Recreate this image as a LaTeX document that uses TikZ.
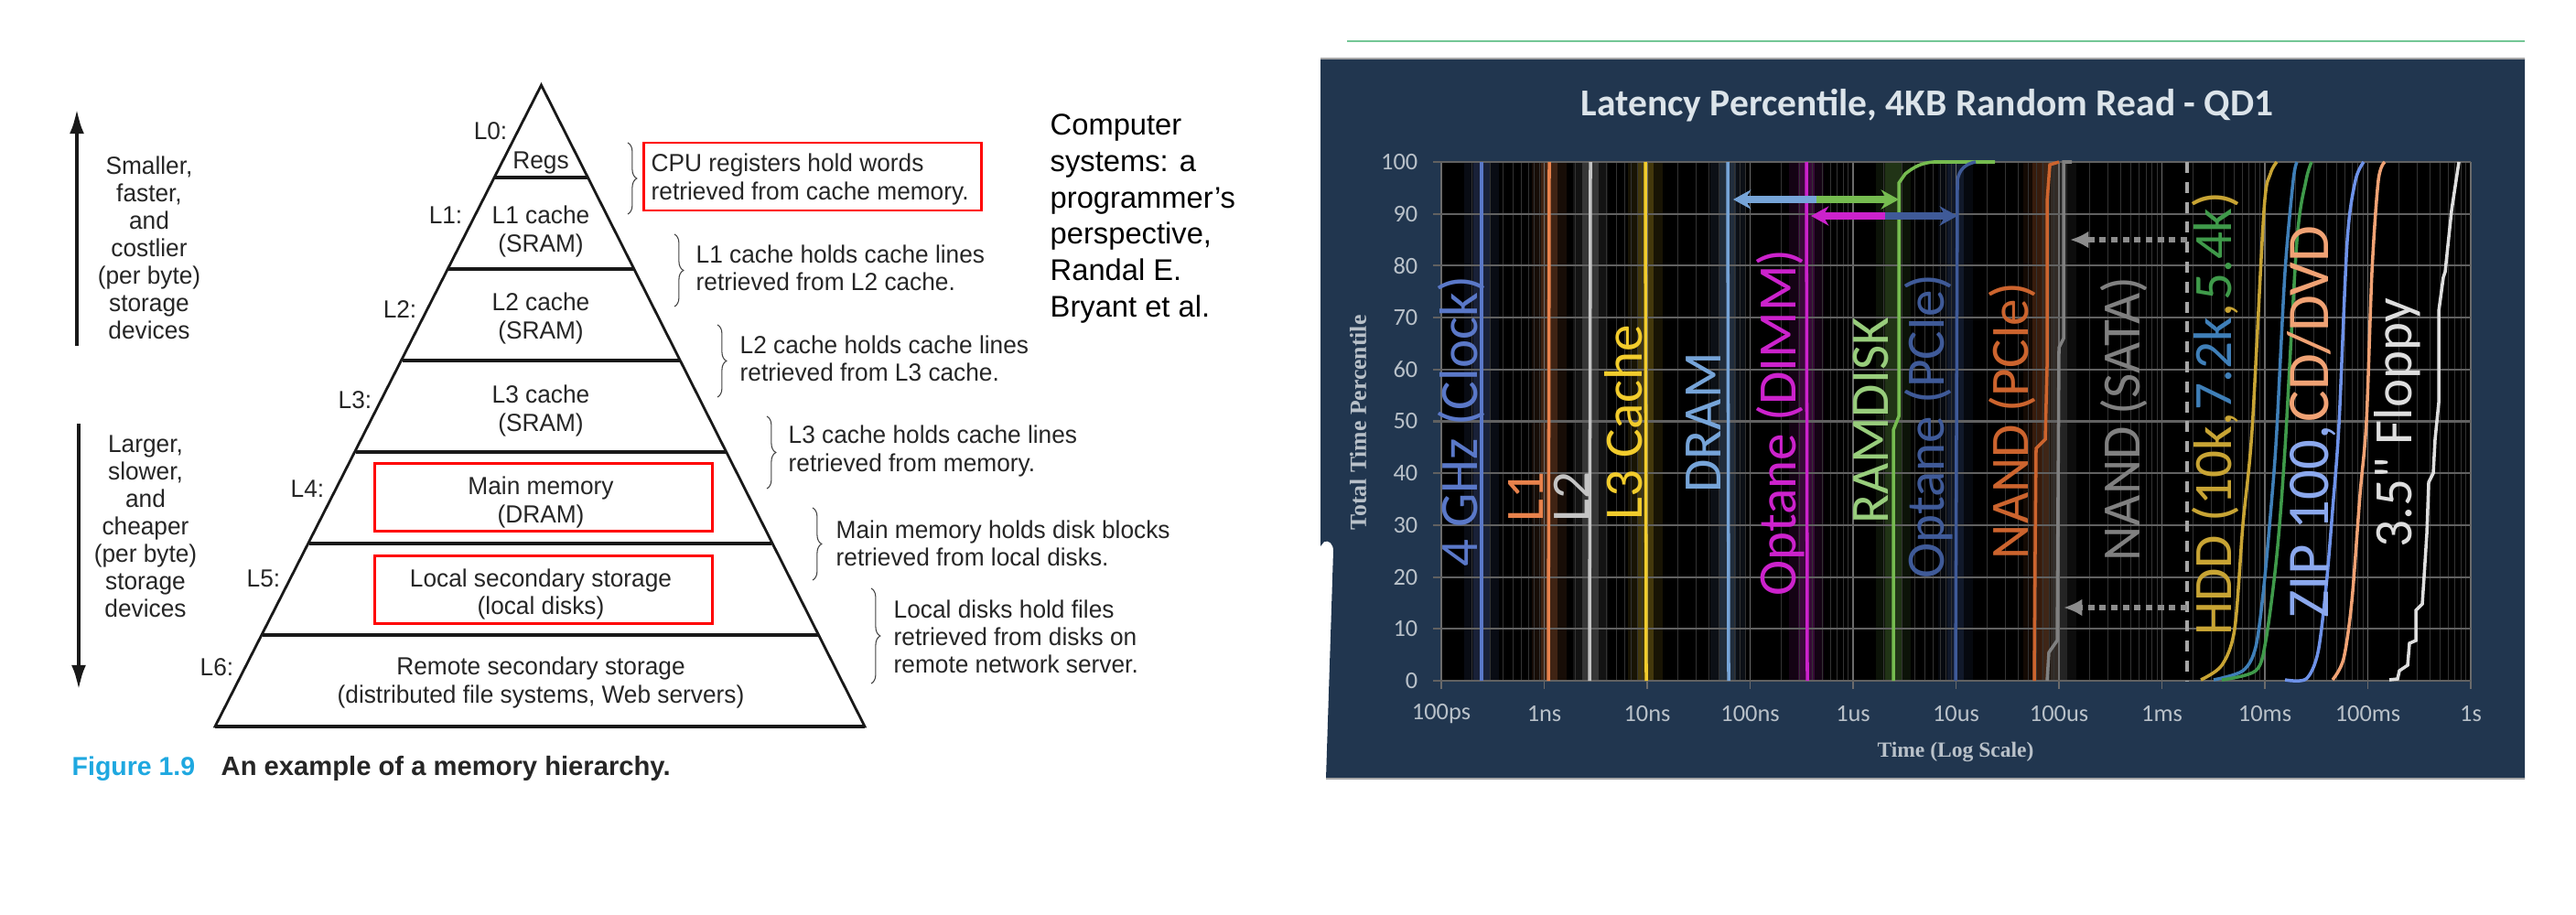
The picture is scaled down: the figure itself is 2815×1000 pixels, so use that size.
\documentclass[tikz,border=0pt]{standalone}
\usepackage{fontspec}
\setmainfont{Liberation Sans}
\newfontfamily\bookfont[FakeStretch=0.97]{Liberation Sans}
\newfontfamily\chartfont{Carlito}
\newfontfamily\axisfont{Liberation Serif}
\usetikzlibrary{arrows.meta, decorations.pathreplacing}
\definecolor{panelblue}{HTML}{21364F}
\definecolor{figcyan}{HTML}{1FA8E0}
\definecolor{ruleg}{HTML}{74C796}
\definecolor{tickgrey}{HTML}{B9C1C9}
\definecolor{titlec}{HTML}{DCE4EA}
\definecolor{clockc}{HTML}{5A78C8}
\definecolor{lonec}{HTML}{E8824C}
\definecolor{ltwoc}{HTML}{C4C4C4}
\definecolor{lthreec}{HTML}{F2CC2C}
\definecolor{dramc}{HTML}{76A4D8}
\definecolor{dimmc}{HTML}{CC22CC}
\definecolor{ramc}{HTML}{76BC50}
\definecolor{pciec}{HTML}{3F5A98}
\definecolor{nandc}{HTML}{CC642E}
\definecolor{satac}{HTML}{808080}
\definecolor{hddc}{HTML}{C8A434}
\definecolor{sevenc}{HTML}{3F7FB8}
\definecolor{fivec}{HTML}{3F9A4A}
\definecolor{zipc}{HTML}{6E92E8}
\definecolor{cdc}{HTML}{F0A274}
\definecolor{flopc}{HTML}{DEDEDE}
\tikzset{
  booktext/.style={inner sep=0pt, align=left, font=\bookfont\fontsize{7.7pt}{8.54pt}\selectfont, text=black!85},
  bookmid/.style={booktext, align=center},
  hold/.style={booktext, anchor=west},
  level/.style={bookmid},
  redbox/.style={draw=red, line width=0.85pt},
  bookbrace/.style={draw=black!75, line width=0.3pt, decorate, decoration={brace, amplitude=2.8pt}},
  bigarrow/.style={line width=1.4pt, draw=black!90, -{Latex[length=8pt, width=4.5pt]}},
  curvelabel/.style={rotate=90, inner sep=0pt, font=\chartfont\fontsize{16.8pt}{18pt}\selectfont},
  tick/.style={inner sep=0pt, text=tickgrey, font=\chartfont\fontsize{7.5pt}{9pt}\selectfont},
  axislabel/.style={inner sep=0pt, text=tickgrey, font=\axisfont\bfseries\fontsize{6.7pt}{8pt}\selectfont},
  curve/.style={line width=1pt},
  glow/.style={line width=5pt, opacity=0.2},
  wideglow/.style={line width=11pt, opacity=0.1},
  span/.style={line width=2pt, -{Stealth[length=5.5pt, width=6pt]}},
  drop/.style={line width=1.6pt, draw=black!45, dash pattern=on 2pt off 1.6pt, -{Latex[length=5.8pt, width=5.4pt]}},
}
\begin{document}
\begin{tikzpicture}[x=0.01cm, y=-0.01cm]
  \useasboundingbox (0,0) rectangle (2815,1000);

  \draw[bigarrow] (84,378) -- (84,118);
  \draw[bigarrow] (86,463) -- (86,755);
  \node[bookmid] (faster) at (163,271) {Smaller,\\faster,\\and\\costlier\\(per byte)\\storage\\devices};
  \node[bookmid] (slower) at (159,575) {Larger,\\slower,\\and\\cheaper\\(per byte)\\storage\\devices};

  \draw[line width=0.8pt, black!90] (235,794) -- (591.5,93) -- (945,794) -- cycle;
  \foreach \ly/\lxa/\lxb in {194/540/642, 294/490/693, 394/440/743, 494/389/794, 594/338/843, 694/287/894}
    \draw[line width=1.3pt, black!90] (\lxa,\ly) -- (\lxb,\ly);
  \draw[line width=1.3pt, black!90] (235,794) -- (945,794);

  \node[level] (l0) at (536,143) {L0:};
  \node[level] (l1) at (487,235) {L1:};
  \node[level] (l2) at (437,338) {L2:};
  \node[level] (l3) at (388,437) {L3:};
  \node[level] (l4) at (336,534) {L4:};
  \node[level] (l5) at (288,632) {L5:};
  \node[level] (l6) at (237,729) {L6:};

  \node[level] (regs) at (591,178) {Regs};
  \node[level] (lonecache) at (591,253) {L1 cache\\(SRAM)};
  \node[level] (ltwocache) at (591,348) {L2 cache\\(SRAM)};
  \node[level] (lthreecache) at (591,449) {L3 cache\\(SRAM)};
  \node[level] (mainmem) at (591,549) {Main memory\\(DRAM)};
  \node[level] (localdisk) at (591,649) {Local secondary storage\\(local disks)};
  \node[level] (remote) at (591,746) {Remote secondary storage\\(distributed file systems, Web servers)};

  \draw[redbox] (409,506) rectangle (778,580);
  \draw[redbox] (409,607) rectangle (778,681);
  \draw[redbox] (703,156) rectangle (1072,230);

  \draw[bookbrace] (686,156) -- (686,234);
  \draw[bookbrace] (737,256) -- (737,335);
  \draw[bookbrace] (784,355) -- (784,434);
  \draw[bookbrace] (838,455) -- (838,534);
  \draw[bookbrace] (888,555) -- (888,634);
  \draw[bookbrace] (952,643) -- (952,747);

  \node[hold] (holdregs) at (711,196) {CPU registers hold words\\retrieved from cache memory.};
  \node[hold] (holdone) at (760,293) {L1 cache holds cache lines\\retrieved from L2 cache.};
  \node[hold] (holdtwo) at (808,392) {L2 cache holds cache lines\\retrieved from L3 cache.};
  \node[hold] (holdthree) at (861,493) {L3 cache holds cache lines\\retrieved from memory.};
  \node[hold] (holdmain) at (913,594) {Main memory holds disk blocks\\retrieved from local disks.};
  \node[hold] (holdlocal) at (976,696) {Local disks hold files\\retrieved from disks on\\remote network server.};

  \node[inner sep=0pt, anchor=west, align=left, font=\fontsize{9.3pt}{11.27pt}\selectfont] (book) at (1147,239)
    {Computer\\systems: a\\programmer’s\\perspective,\\Randal E.\\Bryant et al.};

  \node[inner sep=0pt, anchor=west, text=figcyan, font=\bfseries\fontsize{8.1pt}{9pt}\selectfont] (fignum) at (78,840) {Figure 1.9};
  \node[inner sep=0pt, anchor=west, text=black!85, font=\bfseries\fontsize{8.3pt}{10pt}\selectfont] (figcap) at (241,840) {An example of a memory hierarchy.};

  \draw[ruleg, line width=0.7pt] (1472,45) -- (2759,45);

  \fill[panelblue] (1443,64) -- (2759,64) -- (2759,851) -- (1449,851) -- (1457,602)
    .. controls (1457,594) and (1452,590) .. (1447,592) -- (1443,597) -- cycle;
  \draw[black!35, line width=0.5pt] (1443,64) -- (2759,64);
  \draw[black!35, line width=0.5pt] (1449,851) -- (2759,851);

  \fill[black] (1575,177) rectangle (2700,744);

  \foreach \gx/\gc in {1619/clockc, 1693/lonec, 1738/ltwoc, 1798/lthreec, 1888/dramc, 1974/dimmc, 2069/ramc, 2137/pciec, 2230/nandc, 2250/satac}{
    \draw[wideglow, \gc] (\gx,177) -- (\gx,744);
    \draw[glow, \gc] (\gx,177) -- (\gx,744);
  }

  \foreach \dec in {0,...,9}
    \foreach \sub in {2,...,9}
      \draw[black!80, line width=0.3pt] ({1575+112.5*(\dec+log10(\sub))},177) -- ({1575+112.5*(\dec+log10(\sub))},744);
  \foreach \dec in {0,...,10}
    \draw[black!58, line width=0.5pt] ({1575+112.5*\dec},177) -- ({1575+112.5*\dec},753);
  \foreach \pct in {0,...,10}
    \draw[black!62, line width=0.6pt] (1566,{744-56.7*\pct}) -- (2700,{744-56.7*\pct});

  \foreach \pct in {0,...,10}
    \node[tick, anchor=east] (y\pct) at (1550,{744-56.7*\pct}) {\the\numexpr\pct*10\relax};
  \foreach \dec/\lab in {0/100ps, 1/1ns, 2/10ns, 3/100ns, 4/1us, 5/10us, 6/100us, 7/1ms, 8/10ms, 9/100ms, 10/1s}
    \node[tick] (x\dec) at ({1575+112.5*\dec},780) {\lab};

  \node[axislabel, rotate=90, font=\axisfont\bfseries\fontsize{7.3pt}{9pt}\selectfont] (ytitle) at (1484,462) {Total Time Percentile};
  \node[axislabel] (xtitle) at (2137,822) {Time (Log Scale)};
  \node[inner sep=0pt, text=titlec, font=\chartfont\bfseries\fontsize{11.8pt}{13pt}\selectfont] (title) at (2106,115)
    {Latency Percentile, 4KB Random Read - QD1};

  \draw[curve, clockc] (1619,177) -- (1619,744);
  \draw[curve, lonec] (1693,177) -- (1692,744);
  \draw[curve, ltwoc] (1738,177) -- (1737,744);
  \draw[curve, lthreec] (1798,177) -- (1799,744);
  \draw[curve, dramc] (1888,177) -- (1889,744);
  \draw[curve, dimmc] (1974,177) -- (1975,744);
  \draw[curve, ramc] (2069,744) -- (2069,470) -- (2075,455) -- (2075,200) -- (2082,190)
    .. controls (2092,182) and (2100,178) .. (2113,177) -- (2180,177);
  \draw[curve, pciec] (2137,744) -- (2139,197) .. controls (2141,185) and (2148,179) .. (2159,177);
  \draw[curve, nandc] (2223,744) -- (2224,600) -- (2225,490) -- (2235,480) -- (2237,400) -- (2237,220) -- (2240,180) -- (2250,177);
  \draw[curve, satac] (2237,744) -- (2239,713) -- (2248,700) -- (2250,380) -- (2255,370) -- (2255,177) -- (2264,177);
  \draw[black!35, line width=0.9pt, dash pattern=on 3.4pt off 2.8pt] (2390,177) -- (2390,744);
  \draw[curve, hddc] plot[smooth, tension=0.5] coordinates {(2405,743) (2428,727) (2442,687) (2451,573) (2461,470) (2474,230) (2481,190) (2488,177)};
  \draw[curve, sevenc] plot[smooth, tension=0.5] coordinates {(2419,743) (2451,733) (2465,707) (2474,640) (2483,540) (2488,470) (2497,297) (2506,197) (2510,177)};
  \draw[curve, fivec] plot[smooth, tension=0.5] coordinates {(2428,743) (2465,733) (2476,700) (2488,607) (2497,490) (2510,263) (2520,197) (2526,177)};
  \draw[curve, zipc] plot[smooth, tension=0.5] coordinates {(2497,743) (2520,742) (2533,713) (2542,640) (2549,557) (2556,463) (2565,263) (2574,197) (2583,177)};
  \draw[curve, cdc] plot[smooth, tension=0.5] coordinates {(2549,743) (2561,720) (2570,657) (2579,540) (2586,460) (2592,297) (2599,197) (2606,177)};
  \draw[curve, flopc] (2611,743) -- (2620,742) -- (2622,733) -- (2631,727) -- (2633,703) -- (2640,700) -- (2640,667) -- (2647,660) -- (2649,630) -- (2652,583) -- (2654,527) -- (2659,517) -- (2661,480) -- (2665,440) -- (2665,340) -- (2670,303) -- (2672,297) -- (2679,230) -- (2687,177);

  \node[curvelabel, text=clockc] (clock) at (1597,461) {4 GHz (Clock)};
  \node[curvelabel, text=lonec] (lone) at (1667,543) {L1};
  \node[curvelabel, text=ltwoc] (ltwo) at (1717,543) {L2};
  \node[curvelabel, text=lthreec] (lthree) at (1774,462) {L3 Cache};
  \node[curvelabel, text=dramc] (dram) at (1862,462) {DRAM};
  \node[curvelabel, text=dimmc] (dimm) at (1946,462) {Optane (DIMM)};
  \node[curvelabel, text=ramc!75!white] (ramdisk) at (2045,460) {RAMDISK};
  \node[curvelabel, text=pciec] (optanepcie) at (2108,466) {Optane (PCIe)};
  \node[curvelabel, text=nandc] (nandpcie) at (2199,460) {NAND (PCIe)};
  \node[curvelabel, text=satac] (nandsata) at (2321,458) {NAND (SATA)};
  \node[curvelabel] (hdd) at (2421,452) {\spaceskip=0.05em \textcolor{hddc}{HDD\hspace{0.2em} (10k,} \textcolor{sevenc}{7.2k}\textcolor{hddc}{,} \textcolor{fivec}{5.4k}\textcolor{hddc}{)}};
  \node[curvelabel, font=\chartfont\fontsize{18.4pt}{20pt}\selectfont] (zip) at (2526,461) {\spaceskip=0.05em \textcolor{zipc!80!white}{ZIP\hspace{0.2em} 100,} \textcolor{cdc}{CD/DVD}};
  \node[curvelabel, text=flopc] (floppy) at (2620,462) {3.5" Floppy};

  \coordinate (dramend) at (1894,218);
  \coordinate (dramsplit) at (1985,218);
  \coordinate (ramend) at (2075,218);
  \coordinate (dimmend) at (1979,236);
  \coordinate (dimmsplit) at (2060,236);
  \coordinate (pcieend) at (2139,236);
  \draw[span, dramc] (dramsplit) -- (dramend);
  \draw[span, ramc] (dramsplit) -- (ramend);
  \draw[span, dimmc] (dimmsplit) -- (dimmend);
  \draw[span, pciec] (dimmsplit) -- (pcieend);

  \coordinate (dashtop) at (2390,262);
  \coordinate (satatop) at (2262,262);
  \coordinate (dashlow) at (2390,664);
  \coordinate (satalow) at (2255,664);
  \draw[drop] (dashtop) -- (satatop);
  \draw[drop] (dashlow) -- (satalow);
\end{tikzpicture}
\end{document}
